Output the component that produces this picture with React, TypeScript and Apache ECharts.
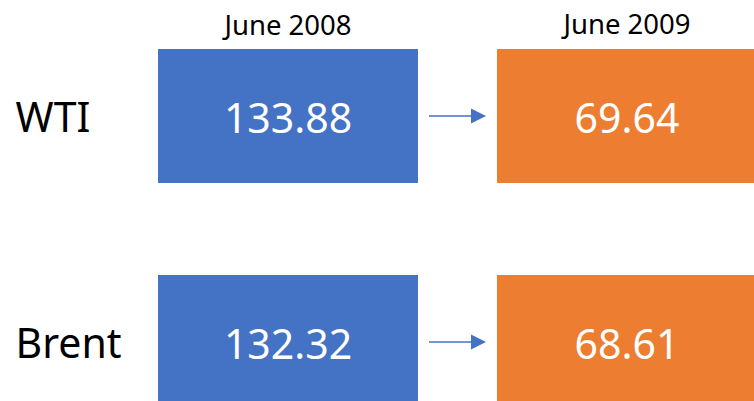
import React, { useEffect, useRef } from "react";
import * as echarts from "echarts";

const benchmarks = ["WTI", "Brent"];
const periods = ["June 2008", "June 2009"];
const june2008 = [133.88, 132.32];
const june2009 = [69.64, 68.61];

const periodColors = ["#4472C4", "#ED7D31"];
const arrowColor = "#4472C4";
const FONT = "'Noto Sans', 'Open Sans', sans-serif";

export default function App() {
  const ref = useRef<HTMLDivElement>(null);

  useEffect(() => {
    if (!ref.current) return;
    const chart = echarts.init(ref.current, undefined, { renderer: "svg" });
    const seriesValues = [june2008, june2009];
    const data: any[] = [];
    periods.forEach((_, pi) => {
      benchmarks.forEach((_, bi) => {
        data.push([pi, bi, seriesValues[pi][bi]]);
      });
    });

    const BW = 260;
    const BH = 134;

    const option: any = {
      animation: false,
      backgroundColor: "#ffffff",
      grid: {
        left: 118.5,
        top: 3,
        width: 678,
        height: 452,
        containLabel: false,
        outerBoundsMode: "none",
      },
      xAxis: {
        type: "category",
        data: periods,
        axisLine: { show: false },
        axisTick: { show: false },
        axisLabel: { show: false },
        splitLine: { show: false },
      },
      yAxis: {
        type: "category",
        data: benchmarks,
        inverse: true,
        axisLine: { show: false },
        axisTick: { show: false },
        splitLine: { show: false },
        axisLabel: {
          margin: 103,
          align: "left",
          fontSize: 41,
          color: "#000000",
          fontFamily: FONT,
        },
      },
      series: [
        {
          type: "custom",
          data,
          encode: { x: 0, y: 1 },
          clip: false,
          renderItem: (params: any, api: any) => {
            const xi = api.value(0);
            const yi = api.value(1);
            const v = api.value(2);
            const c = api.coord([xi, yi]);
            const children: any[] = [
              {
                type: "rect",
                shape: { x: c[0] - BW / 2, y: c[1] - BH / 2, width: BW, height: BH },
                style: { fill: periodColors[xi] },
              },
              {
                type: "text",
                style: {
                  text: Number(v).toFixed(2),
                  x: c[0],
                  y: c[1] + 1,
                  align: "center",
                  verticalAlign: "middle",
                  fill: "#ffffff",
                  fontSize: 41,
                  fontFamily: FONT,
                },
              },
            ];
            if (yi === 0) {
              children.push({
                type: "text",
                style: {
                  text: periods[xi],
                  x: c[0],
                  y: c[1] - 92 - (xi === 1 ? 1 : 0),
                  align: "center",
                  verticalAlign: "middle",
                  fill: "#000000",
                  fontSize: 27.5,
                  fontFamily: FONT,
                },
              });
            }
            if (xi === 1) {
              const p = api.coord([0, yi]);
              const x1 = p[0] + BW / 2 + 11;
              const x2 = c[0] - BW / 2 - 11;
              const y = c[1];
              children.push({
                type: "line",
                shape: { x1, y1: y, x2: x2 - 10, y2: y },
                style: { stroke: arrowColor, lineWidth: 1.5 },
              });
              children.push({
                type: "polygon",
                shape: { points: [[x2 - 15, y - 7.5], [x2, y], [x2 - 15, y + 7.5]] },
                style: { fill: arrowColor },
              });
            }
            return { type: "group", children };
          },
        },
      ],
    };
    chart.setOption(option);
    return () => chart.dispose();
  }, []);

  return (
    <div
      ref={ref}
      style={{ position: "fixed", left: 0, top: 0, width: 754, height: 401 }}
    />
  );
}
